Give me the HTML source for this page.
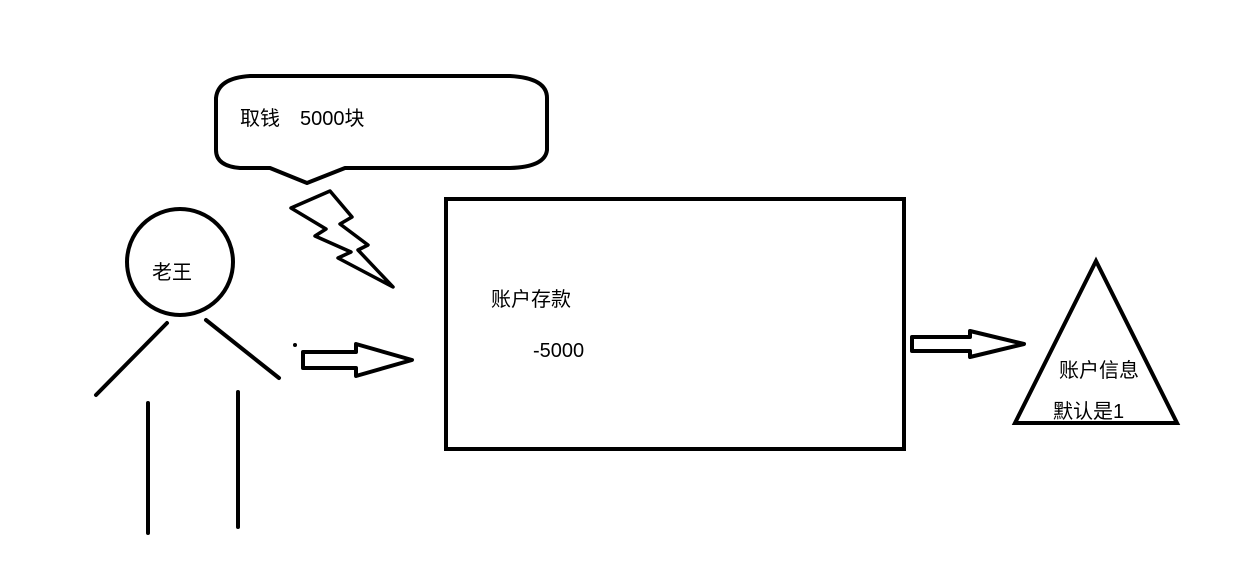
<!DOCTYPE html>
<html><head><meta charset="utf-8"><style>
html,body{margin:0;padding:0;background:#fff;}
svg{display:block}
text{font-family:"Liberation Sans","Noto Sans CJK SC",sans-serif;font-size:20px;fill:#000}
</style></head><body>
<svg width="1234" height="574" viewBox="0 0 1234 574" xmlns="http://www.w3.org/2000/svg">
<rect width="1234" height="574" fill="#fff"/>
<g fill="none" stroke="#000" stroke-width="4" stroke-linejoin="round" stroke-linecap="round">
<path d="M250,76 L510,76 Q547,78 547,98 L547,150 Q545,167 510,168 L345,168 L307,183 L270,168 L240,168 Q216,166 216,150 L216,98 Q218,78 250,76 Z"/>
<path d="M291,208 L330,191 L352,217 L340,224 L368,245 L358,250 L393,287 L338,258 L351,252 L315,236 L326,229 Z" stroke-width="3.5"/>
<circle cx="180" cy="262" r="53"/>
<line x1="167" y1="323" x2="96" y2="395"/>
<line x1="206" y1="320" x2="279" y2="378"/>
<line x1="148" y1="403" x2="148" y2="533"/>
<line x1="238" y1="392" x2="238" y2="527"/>
<path d="M303,352 L356,352 L356,344 L412,360 L356,376 L356,368 L303,368 Z"/>
<rect x="446" y="199" width="458" height="250" stroke-width="4" stroke-linejoin="miter"/>
<path d="M912,337 L970,337 L970,331 L1024,344 L970,357 L970,351 L912,351 Z"/>
<path d="M1096,261 L1177,423 L1015,423 Z" stroke-linejoin="miter"/>
</g>
<circle cx="295" cy="345" r="2" fill="#000"/>
<text x="240" y="125">取钱</text>
<text x="300" y="125">5000块</text>
<text x="152" y="279">老王</text>
<text x="491" y="306">账户存款</text>
<text x="533" y="357">-5000</text>
<text x="1059" y="377">账户信息</text>
<text x="1053" y="418">默认是1</text>
</svg>
</body></html>
